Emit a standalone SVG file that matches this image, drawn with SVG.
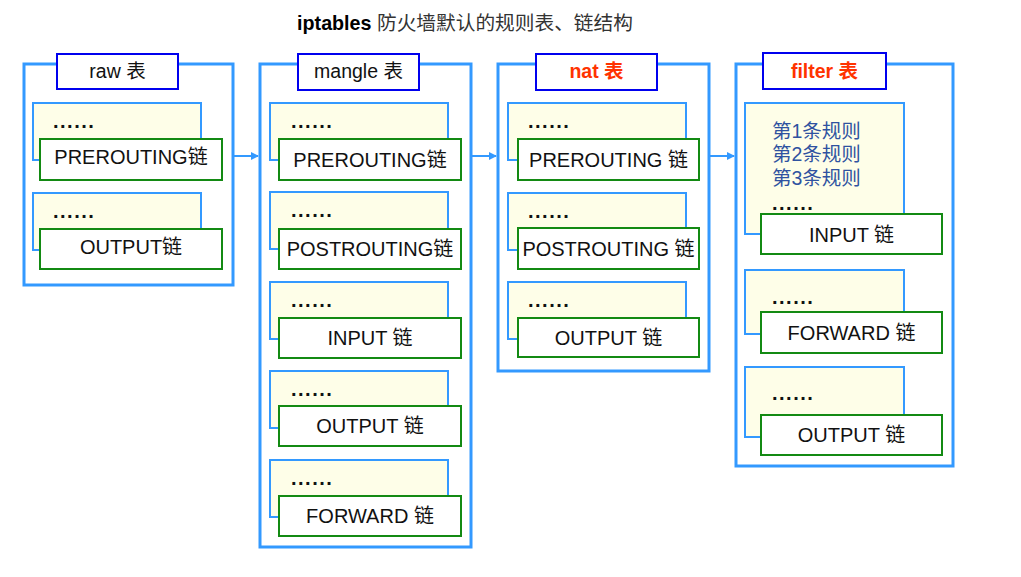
<svg xmlns="http://www.w3.org/2000/svg" width="1021" height="577" viewBox="0 0 1021 577">
<defs>
<marker id="arr" markerWidth="8" markerHeight="8" refX="7" refY="4" orient="auto" markerUnits="userSpaceOnUse">
<path d="M0,0 L8,4 L0,8 z" fill="#3399ff"/>
</marker>
</defs>
<style>
.outer{fill:#fff;stroke:#3399ff;stroke-width:3}
.lbl{fill:#fff;stroke:#0000ee;stroke-width:2}
.yel{fill:#fefee8;stroke:#3399ff;stroke-width:2}
.grn{fill:#fff;stroke:#138a13;stroke-width:2}
text{font-family:"Liberation Sans",Arial,"Noto Sans CJK SC",sans-serif}
.t{font-size:20px;fill:#111;text-anchor:middle}
.h{font-size:19.5px;fill:#111;text-anchor:middle}
.r{font-size:19.5px;fill:#ff3300;font-weight:bold;text-anchor:middle}
.d{font-size:20px;font-weight:bold;fill:#111;letter-spacing:1.5px}
.b{font-size:19.5px;fill:#2f52a0}
.conn{stroke:#3399ff;stroke-width:2;fill:none}
</style>
<text x="465" y="30" text-anchor="middle" font-size="19.7"><tspan font-weight="bold" fill="#000">iptables</tspan><tspan fill="#333"> 防火墙默认的规则表、链结构</tspan></text>

<g id="raw">
<rect class="outer" x="24" y="64" width="209" height="221"/>
<rect class="lbl" x="57" y="54" width="121" height="35"/>
<text class="h" x="117.5" y="78">raw 表</text>
<g id="raw-prerouting">
<rect class="yel" x="33" y="103" width="168" height="57"/>
<text class="d" x="53" y="128">......</text>
<rect class="grn" x="40" y="139" width="182" height="41"/>
<text class="t" x="131" y="164">PREROUTING链</text>
</g>
<g id="raw-output">
<rect class="yel" x="33" y="193" width="168" height="57"/>
<text class="d" x="53" y="218">......</text>
<rect class="grn" x="40" y="229" width="182" height="40"/>
<text class="t" x="131" y="254">OUTPUT链</text>
</g>
</g>

<g id="mangle">
<rect class="outer" x="260" y="64" width="211" height="483"/>
<rect class="lbl" x="298" y="54" width="121" height="36"/>
<text class="h" x="358.5" y="78">mangle 表</text>
<g id="mangle-prerouting">
<rect class="yel" x="270" y="103" width="178" height="57"/>
<text class="d" x="291" y="128">......</text>
<rect class="grn" x="279" y="139" width="182" height="41"/>
<text class="t" x="370" y="167">PREROUTING链</text>
</g>
<g id="mangle-postrouting">
<rect class="yel" x="270" y="192" width="178" height="57"/>
<text class="d" x="291" y="217">......</text>
<rect class="grn" x="279" y="229" width="182" height="40"/>
<text class="t" x="370" y="256">POSTROUTING链</text>
</g>
<g id="mangle-input">
<rect class="yel" x="270" y="282" width="178" height="57"/>
<text class="d" x="291" y="307">......</text>
<rect class="grn" x="279" y="318" width="182" height="40"/>
<text class="t" x="370" y="345">INPUT 链</text>
</g>
<g id="mangle-output">
<rect class="yel" x="270" y="371" width="178" height="57"/>
<text class="d" x="291" y="396">......</text>
<rect class="grn" x="279" y="406" width="182" height="40"/>
<text class="t" x="370" y="433">OUTPUT 链</text>
</g>
<g id="mangle-forward">
<rect class="yel" x="270" y="460" width="178" height="57"/>
<text class="d" x="291" y="485">......</text>
<rect class="grn" x="279" y="496" width="182" height="40"/>
<text class="t" x="370" y="523">FORWARD 链</text>
</g>
</g>

<g id="nat">
<rect class="outer" x="498" y="64" width="211" height="307"/>
<rect class="lbl" x="536" y="54" width="121" height="36"/>
<text class="r" x="596.5" y="78">nat 表</text>
<g id="nat-prerouting">
<rect class="yel" x="508" y="103" width="178" height="57"/>
<text class="d" x="528" y="128">......</text>
<rect class="grn" x="518" y="139" width="181" height="41"/>
<text class="t" x="608.5" y="167">PREROUTING 链</text>
</g>
<g id="nat-postrouting">
<rect class="yel" x="508" y="193" width="178" height="57"/>
<text class="d" x="528" y="218">......</text>
<rect class="grn" x="518" y="228" width="181" height="41"/>
<text class="t" x="608.5" y="256">POSTROUTING 链</text>
</g>
<g id="nat-output">
<rect class="yel" x="508" y="282" width="178" height="57"/>
<text class="d" x="528" y="307">......</text>
<rect class="grn" x="518" y="318" width="181" height="39"/>
<text class="t" x="608.5" y="345">OUTPUT 链</text>
</g>
</g>

<g id="filter">
<rect class="outer" x="736" y="64" width="217" height="402"/>
<rect class="lbl" x="763" y="53" width="123" height="36"/>
<text class="r" x="824.5" y="78">filter 表</text>
<g id="filter-input">
<rect class="yel" x="745" y="103" width="159" height="131"/>
<text class="b" x="772" y="138">第1条规则</text>
<text class="b" x="772" y="161">第2条规则</text>
<text class="b" x="772" y="185">第3条规则</text>
<text class="d" x="772" y="210">......</text>
<rect class="grn" x="761" y="214" width="181" height="40"/>
<text class="t" x="851.5" y="242">INPUT 链</text>
</g>
<g id="filter-forward">
<rect class="yel" x="745" y="270" width="159" height="64"/>
<text class="d" x="772" y="304">......</text>
<rect class="grn" x="761" y="312" width="181" height="41"/>
<text class="t" x="851.5" y="340">FORWARD 链</text>
</g>
<g id="filter-output">
<rect class="yel" x="745" y="367" width="159" height="70"/>
<text class="d" x="772" y="400">......</text>
<rect class="grn" x="761" y="415" width="181" height="40"/>
<text class="t" x="851.5" y="442">OUTPUT 链</text>
</g>
</g>

<g id="connectors">
<line class="conn" x1="234" y1="156" x2="258" y2="156" marker-end="url(#arr)"/>
<line class="conn" x1="472" y1="156" x2="496" y2="156" marker-end="url(#arr)"/>
<line class="conn" x1="710" y1="156" x2="734" y2="156" marker-end="url(#arr)"/>
</g>
</svg>
